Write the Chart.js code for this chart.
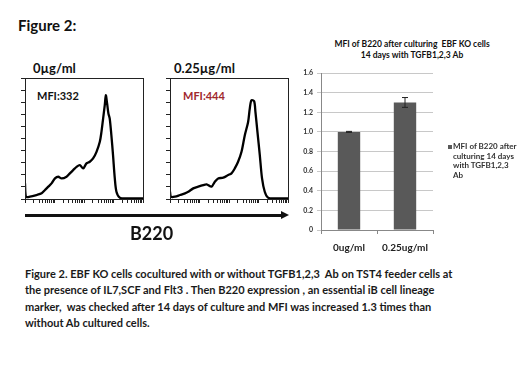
<!DOCTYPE html>
<html>
<head>
<meta charset="utf-8">
<script src="https://cdn.jsdelivr.net/npm/chart.js@4/dist/chart.umd.min.js"></script>
<style>
  body { margin: 0; background: #fff; font-family: Lato, "Open Sans", sans-serif; }
  #page { position: relative; width: 520px; height: 390px; overflow: hidden; }
  .txt { position: absolute; font-weight: bold; color: #111; white-space: nowrap; }
  .box { position: absolute; }
</style>
</head>
<body>
<div id="page">
  <div class="txt" style="left:18px; top:16px; font-size:15px;">Figure 2:</div>

  <div class="txt" style="left:33px; top:60px; font-size:13px;">0µg/ml</div>
  <div class="txt" style="left:174px; top:60px; font-size:13px;">0.25µg/ml</div>
  <div class="txt" style="left:37px; top:89px; font-size:11px;">MFI:332</div>
  <div class="txt" style="left:183px; top:89px; font-size:11px; color:#a0282d;">MFI:444</div>

  <div class="box" style="left:15px; top:72px; width:140px; height:140px;"><canvas id="hist1"></canvas></div>
  <div class="box" style="left:160px; top:72px; width:140px; height:140px;"><canvas id="hist2"></canvas></div>

  <!-- axis arrow under both histograms -->
  <div class="box" style="left:25px; top:214px; width:258px; height:3px; background:#111;"></div>
  <div class="box" style="left:281px; top:211px; width:0; height:0; border-top:4.5px solid transparent; border-bottom:4.5px solid transparent; border-left:8px solid #111;"></div>

  <div class="txt" style="left:130px; top:222px; font-size:18px;">B220</div>

  <!-- bar chart title, centred over the whole chart incl. legend -->
  <div class="txt" style="left:312px; top:39px; width:200px; text-align:center; font-size:8.5px; line-height:10.5px;">MFI of B220 after culturing&nbsp; EBF KO cells<br>14 days with TGFB1,2,3 Ab</div>

  <div class="box" style="left:290px; top:62px; width:230px; height:198px;"><canvas id="bars"></canvas></div>

  <div class="box" style="left:448px; top:145px; width:4px; height:4px; background:#595959;"></div>
  <div class="txt" style="left:453px; top:142px; font-size:8px; line-height:9.5px; color:#333;">MFI of B220 after<br>culturing 14 days<br>with TGFB1,2,3<br>Ab</div>

  <div class="txt" style="left:25px; top:266px; font-size:11px; line-height:16.3px; color:#1a1a1a;">Figure 2. EBF KO cells cocultured with or without TGFB1,2,3&nbsp; Ab on TST4 feeder cells at<br>the presence of IL7,SCF and Flt3 . Then B220 expression , an essential iB cell lineage<br>marker,&nbsp; was checked after 14 days of culture and MFI was increased 1.3 times than<br>without Ab cultured cells.</div>
</div>

<script>
// histogram traces (x: 0-100 across the log axis, y: % of max height)
const hist1X = [0, 0.8, 4.2, 9.9, 14.1, 16.9, 19.7, 22.5, 25.4, 28.2, 31, 35.2, 38, 40.8, 43.7, 46.5, 49.3, 52.1, 54.9, 57.7, 60.6, 63.4, 64.8, 66.2, 67.6, 68.5, 69.6, 70.7, 71.8, 73.2, 74.6, 76.1, 77.5, 80.3, 85.9, 100];
const hist1Y = [13, 1.9, 1.9, 3.3, 4.7, 7.4, 10.2, 12.9, 17, 18.4, 17, 18.4, 21.2, 23.9, 26.6, 28, 25.3, 29.4, 30.8, 33.5, 39, 47.3, 55.5, 66.5, 77.5, 85.7, 78.8, 70.6, 66.5, 52.7, 36.3, 17, 6, 1.1, 0.5, 0.5];

const hist2X = [0, 0.8, 4.2, 8.5, 12.7, 15.5, 19.7, 23.9, 28.2, 31, 35.2, 38, 40.8, 45.1, 49.3, 52.1, 54.9, 57.7, 60.6, 63.4, 66.2, 67.6, 69, 71.3, 72.4, 74.1, 76.1, 78, 80.3, 83.1, 88.7, 100];
const hist2Y = [6, 1.9, 1.9, 3.3, 4.7, 6, 8.8, 10.2, 11.5, 12.1, 10.2, 14.3, 17, 17.6, 19.8, 21.2, 25.3, 30.8, 39, 52.7, 63.7, 74.7, 81.6, 80.8, 72, 55.5, 36.3, 17, 6, 1.1, 0.5, 0.5];

// bar chart data
const categories = ['0ug/ml', '0.25ug/ml'];
const mfiValues = [1.0, 1.3];
const mfiErrors = [0.005, 0.05];
const seriesName = 'MFI of B220 after culturing 14 days with TGFB1,2,3 Ab';

// frame around a histogram plot area
const frameBox = {
  id: 'frameBox',
  afterDraw(chart) {
    const a = chart.chartArea;
    const ctx = chart.ctx;
    ctx.save();
    ctx.strokeStyle = '#222';
    ctx.lineWidth = 1;
    ctx.strokeRect(a.left + 0.5, a.top + 0.5, a.right - a.left, a.bottom - a.top);
    ctx.restore();
  }
};

const makeHist = (id, xs, ys) => {
  const pts = xs.map((x, i) => ({ x: x, y: ys[i] }));
  return new Chart(document.getElementById(id), {
    type: 'line',
    data: { datasets: [{ data: pts, borderColor: '#000', borderWidth: 2.3, pointRadius: 0, tension: 0.3, fill: false }] },
    options: {
      responsive: true,
      maintainAspectRatio: false,
      animation: false,
      layout: { padding: { top: 6, right: 12, left: 0, bottom: 0 } },
      plugins: { legend: { display: false }, tooltip: { enabled: false } },
      scales: {
        x: {
          type: 'linear', min: 0, max: 100,
          afterBuildTicks: (s) => {
            // log-style tick marks, 4 decades
            let t = [];
            for (let d = 0; d < 4; d++) {
              for (let k = 1; k < 10; k++) t.push({ value: d * 25 + 25 * Math.log10(k) });
            }
            t.push({ value: 100 });
            s.ticks = t;
          },
          afterFit: (s) => { s.height = 13; },
          ticks: { display: false },
          grid: { drawOnChartArea: false, tickLength: 4, color: '#222' },
          border: { color: '#222' }
        },
        y: {
          min: 0, max: 100,
          afterFit: (s) => { s.width = 10; },
          ticks: { display: false, stepSize: 10 },
          grid: { drawOnChartArea: false, tickLength: 4, color: '#222' },
          border: { color: '#222' }
        }
      }
    },
    plugins: [frameBox]
  });
};

makeHist('hist1', hist1X, hist1Y);
makeHist('hist2', hist2X, hist2Y);

// error bars on top of the bars
const errorBars = {
  id: 'errorBars',
  afterDatasetsDraw(chart) {
    const ctx = chart.ctx;
    const y = chart.scales.y;
    const meta = chart.getDatasetMeta(0);
    ctx.save();
    ctx.strokeStyle = '#222';
    ctx.lineWidth = 1;
    meta.data.forEach((bar, i) => {
      const top = y.getPixelForValue(mfiValues[i] + mfiErrors[i]);
      const bot = y.getPixelForValue(mfiValues[i] - mfiErrors[i]);
      ctx.beginPath();
      ctx.moveTo(bar.x, top);
      ctx.lineTo(bar.x, bot);
      ctx.moveTo(bar.x - 3, top);
      ctx.lineTo(bar.x + 3, top);
      ctx.moveTo(bar.x - 3, bot);
      ctx.lineTo(bar.x + 3, bot);
      ctx.stroke();
    });
    ctx.restore();
  }
};

new Chart(document.getElementById('bars'), {
  type: 'bar',
  data: {
    labels: categories,
    datasets: [{
      label: seriesName,
      data: mfiValues,
      backgroundColor: '#595959',
      borderWidth: 0,
      categoryPercentage: 1,
      barPercentage: 0.4
    }]
  },
  options: {
    responsive: true,
    maintainAspectRatio: false,
    animation: false,
    layout: { padding: { top: 11, right: 87, left: 0, bottom: 0 } },
    plugins: {
      legend: { display: false },
      tooltip: { enabled: false }
    },
    scales: {
      x: {
        afterFit: (s) => { s.height = 30; },
        ticks: { color: '#222', font: { family: 'Lato', size: 10, weight: 'bold' }, padding: 8 },
        grid: { drawOnChartArea: false, offset: true, tickLength: 4, color: '#888' },
        border: { color: '#888' }
      },
      y: {
        min: 0, max: 1.6,
        afterFit: (s) => { s.width = 31; },
        ticks: { stepSize: 0.2, color: '#333', font: { family: 'Lato', size: 7, weight: 'bold' }, padding: 4 },
        grid: { color: '#c8c8c8', tickLength: 4 },
        border: { color: '#888' }
      }
    }
  },
  plugins: [errorBars]
});
</script>
</body>
</html>
